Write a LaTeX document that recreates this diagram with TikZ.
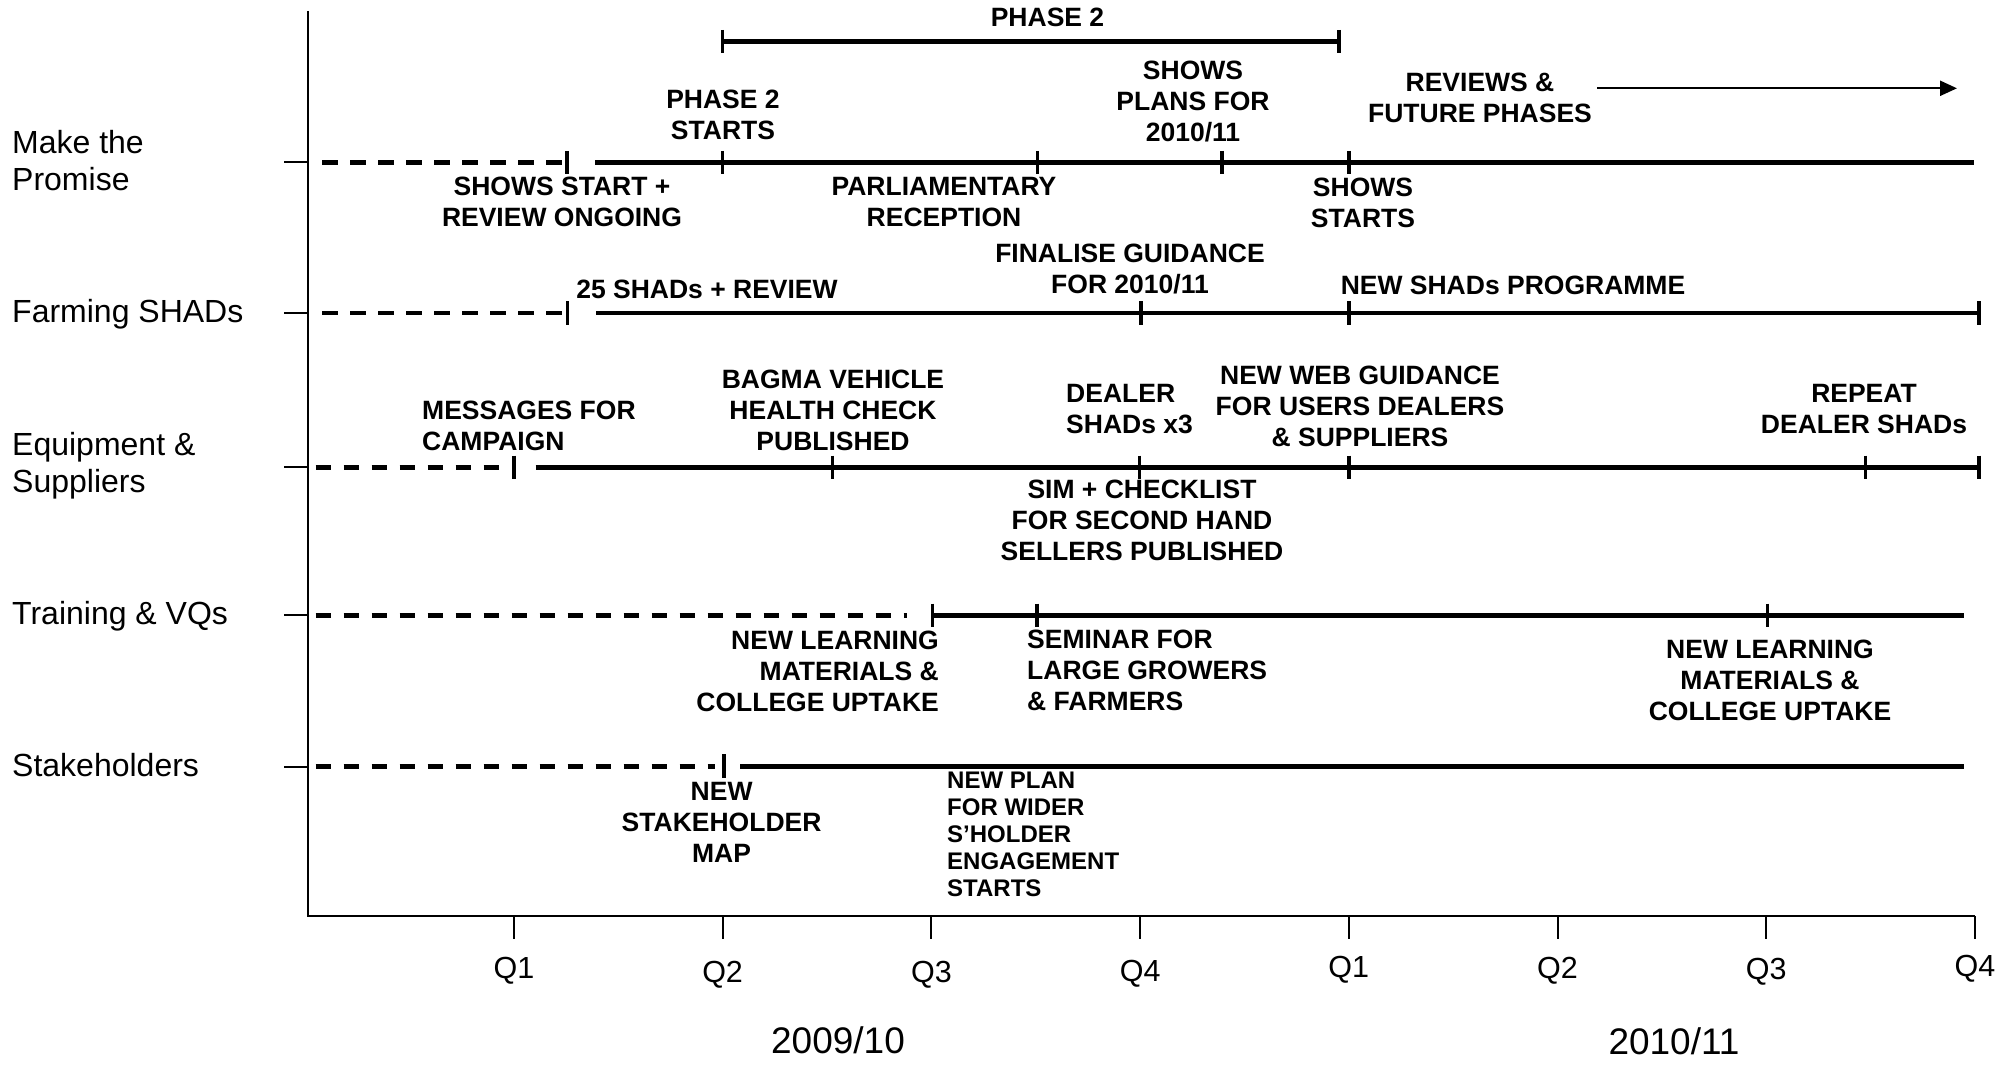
\documentclass[tikz,border=0pt]{standalone}
\usepackage{fontspec}
\setmainfont{Liberation Sans}
\usetikzlibrary{arrows.meta}

\begin{document}
\begin{tikzpicture}[
x=1pt, y=-1pt,
ev/.style={
	font=\bfseries\fontsize{26.5}{31}\selectfont,
	align=center, inner sep=0pt
},
evsmall/.style={
	font=\bfseries\fontsize{24}{27}\selectfont,
	align=left, anchor=west, inner sep=0pt
},
lane/.style={font=\fontsize{32}{37}\selectfont, align=left, anchor=west, inner sep=0pt},
qlabel/.style={font=\fontsize{30.5}{35}\selectfont, inner sep=0pt},
year/.style={font=\fontsize{37}{42}\selectfont, inner sep=0pt},
axisline/.style={line width=2.3pt},
stub/.style={line width=2pt},
run/.style={line width=4.6pt},
plan/.style={line width=4.6pt, dash pattern=on 15.5pt off 12.5pt},
evtick/.style={line width=3.6pt}
]
\useasboundingbox (0,0) rectangle (2013,1067);

\draw[axisline] (308,11) -- (308,916) -- (1975,916);
\foreach \x/\q/\y [count=\i] in {514/Q1/971, 722.6/Q2/975, 931.4/Q3/975, 1140.1/Q4/974,
	1348.8/Q1/969.5, 1557.5/Q2/970.6, 1766.2/Q3/972, 1974.9/Q4/968.7}
{
	\draw[stub] (\x,916) -- (\x,939);
	\node[qlabel] (q\i) at (\x,\y) {\q};
}
\node[year] (y0910) at (838,1040) {2009/10};
\node[year] (y1011) at (1674,1041) {2010/11};

\foreach \y/\n/\t in {161/make/Make the\\Promise, 313.9/farm/Farming SHADs,
	466/equip/Equipment \&\\Suppliers, 616/train/Training \& VQs, 765/stake/Stakeholders}
	\node[lane] (\n) at (12,\y) {\t};
\foreach \y in {162.5,313.2,467.2,615.3,766.6}
	\draw[stub] (284,\y) -- (308,\y);

% phase 2 bar
\node[ev] (phase) at (1047.5,17.5) {PHASE 2};
\draw[run] (722.6,41.5) -- (1339,41.5);
\draw[evtick] (722.6,30) -- (722.6,53);
\draw[evtick] (1339,30) -- (1339,53);

% make the promise
\draw[plan] (322,162.5) -- (562,162.5);
\draw[run] (595,162.5) -- (1974,162.5);
\foreach \x in {567,722.6,1037.5,1222,1348.8}
	\draw[evtick] (\x,151) -- (\x,174);
\node[ev] (p2start) at (723,115) {PHASE 2\\STARTS};
\node[ev] (showsrev) at (562,202) {SHOWS START +\\REVIEW ONGOING};
\node[ev] (parl) at (944,202) {PARLIAMENTARY\\RECEPTION};
\node[ev] (plans) at (1193,101.7) {SHOWS\\PLANS FOR\\2010/11};
\node[ev] (reviews) at (1480,97.4) {REVIEWS \&\\FUTURE PHASES};
\node[ev] (showsst) at (1363,203) {SHOWS\\STARTS};
\coordinate (futS) at (1597,88.3);
\coordinate (futE) at (1957,88.3);
\draw[line width=2.2pt, -{Triangle[length=17pt,width=15pt]}] (futS) -- (futE);

% farming shads
\draw[plan] (322,313.2) -- (562,313.2);
\draw[run] (596,313.2) -- (1978.7,313.2);
\foreach \x in {567.6,1140.8,1348.8,1978.7}
	\draw[evtick] (\x,301.5) -- (\x,324.5);
\node[ev] (shads25) at (707,289.3) {25 SHADs + REVIEW};
\node[ev] (guide) at (1130,268.6) {FINALISE GUIDANCE\\FOR 2010/11};
\node[ev] (newshads) at (1513,285.5) {NEW SHADs PROGRAMME};

% equipment & suppliers
\draw[plan] (315.7,467.2) -- (502,467.2);
\draw[run] (535.7,467.2) -- (1978.7,467.2);
\foreach \x in {514,832.3,1139.5,1348.8,1865.6,1978.7}
	\draw[evtick] (\x,455.5) -- (\x,478.5);
\node[ev, align=left, anchor=west] (msg) at (422,426) {MESSAGES FOR\\CAMPAIGN};
\node[ev] (bagma) at (833,410) {BAGMA VEHICLE\\HEALTH CHECK\\PUBLISHED};
\node[ev, align=left, anchor=west] (dealer) at (1066,408.6) {DEALER\\SHADs x3};
\node[ev] (web) at (1360,406) {NEW WEB GUIDANCE\\FOR USERS DEALERS\\\& SUPPLIERS};
\node[ev] (repeat) at (1864,409.5) {REPEAT\\DEALER SHADs};
\node[ev] (sim) at (1142,520.5) {SIM + CHECKLIST\\FOR SECOND HAND\\SELLERS PUBLISHED};

% training & vqs
\draw[plan] (315.7,615.3) -- (906.7,615.3);
\draw[run] (932.4,615.3) -- (1963.8,615.3);
\foreach \x in {932.4,1036.8,1767.4}
	\draw[evtick] (\x,603.5) -- (\x,626.5);
\node[ev, align=right, anchor=east] (learn1) at (939,671) {NEW LEARNING\\MATERIALS \&\\COLLEGE UPTAKE};
\node[ev, align=left, anchor=west] (seminar) at (1027,670.5) {SEMINAR FOR\\LARGE GROWERS\\\& FARMERS};
\node[ev] (learn2) at (1770,680.5) {NEW LEARNING\\MATERIALS \&\\COLLEGE UPTAKE};

% stakeholders
\draw[plan] (315.7,766.6) -- (715,766.6);
\draw[run] (740,766.6) -- (1964,766.6);
\draw[evtick] (724,754) -- (724,778);
\node[ev] (map) at (721.6,822) {NEW\\STAKEHOLDER\\MAP};
\node[evsmall] (wider) at (947,834) {NEW PLAN\\FOR WIDER\\S’HOLDER\\ENGAGEMENT\\STARTS};
\end{tikzpicture}
\end{document}
